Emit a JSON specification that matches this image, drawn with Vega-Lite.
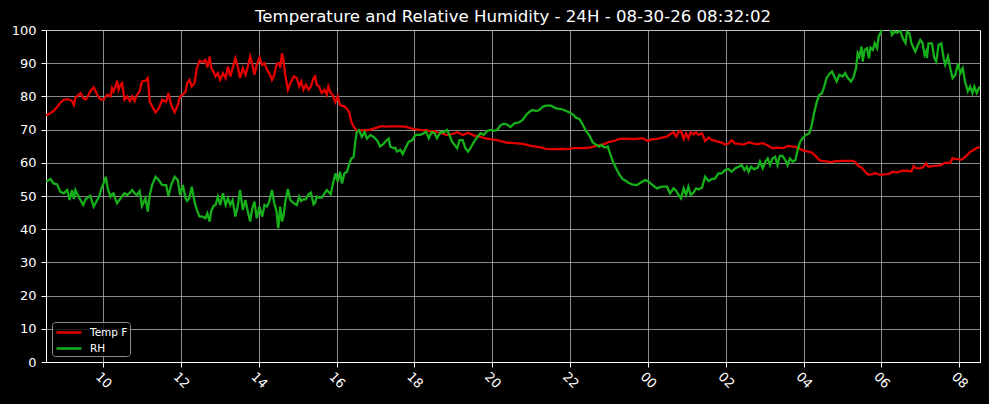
{
  "$schema": "https://vega.github.io/schema/vega-lite/v6.json",
  "description": "Temperature and relative humidity over the last 24 hours",
  "width": 934,
  "height": 332,
  "autosize": {"type": "none"},
  "padding": {"left": 46, "top": 30, "right": 9, "bottom": 42},
  "background": "black",
  "title": {
    "text": "Temperature and Relative Humidity - 24H - 08-30-26 08:32:02",
    "color": "white",
    "font": "DejaVu Sans",
    "fontSize": 16.6,
    "fontWeight": "normal",
    "anchor": "middle",
    "frame": "group",
    "baseline": "alphabetic",
    "offset": 8,
    "dy": 23
  },
  "data": {
    "values": [
      {"h": 8.54, "Temp F": 74.2, "RH": 54.5},
      {"h": 8.56, "Temp F": 74.4, "RH": 54.5},
      {"h": 8.65, "Temp F": 75.0, "RH": 55.1},
      {"h": 8.73, "Temp F": 75.6, "RH": 53.8},
      {"h": 8.82, "Temp F": 76.8, "RH": 53.5},
      {"h": 8.90, "Temp F": 78.0, "RH": 51.3},
      {"h": 8.99, "Temp F": 79.0, "RH": 50.8},
      {"h": 9.08, "Temp F": 79.2, "RH": 51.8},
      {"h": 9.14, "Temp F": 79.0, "RH": 48.8},
      {"h": 9.20, "Temp F": 78.6, "RH": 51.8},
      {"h": 9.25, "Temp F": 77.4, "RH": 49.1},
      {"h": 9.29, "Temp F": 79.5, "RH": 51.8},
      {"h": 9.33, "Temp F": 80.0, "RH": 50.8},
      {"h": 9.42, "Temp F": 81.0, "RH": 48.8},
      {"h": 9.49, "Temp F": 79.5, "RH": 47.3},
      {"h": 9.55, "Temp F": 79.0, "RH": 49.0},
      {"h": 9.61, "Temp F": 80.0, "RH": 49.5},
      {"h": 9.67, "Temp F": 81.5, "RH": 50.1},
      {"h": 9.76, "Temp F": 82.7, "RH": 46.8},
      {"h": 9.85, "Temp F": 80.5, "RH": 48.8},
      {"h": 9.90, "Temp F": 79.5, "RH": 49.8},
      {"h": 9.95, "Temp F": 79.0, "RH": 52.0},
      {"h": 10.02, "Temp F": 79.0, "RH": 54.0},
      {"h": 10.07, "Temp F": 80.0, "RH": 55.8},
      {"h": 10.12, "Temp F": 80.5, "RH": 52.3},
      {"h": 10.19, "Temp F": 80.0, "RH": 49.8},
      {"h": 10.23, "Temp F": 82.5, "RH": 50.5},
      {"h": 10.27, "Temp F": 81.5, "RH": 50.8},
      {"h": 10.32, "Temp F": 83.0, "RH": 49.0},
      {"h": 10.36, "Temp F": 84.7, "RH": 47.8},
      {"h": 10.40, "Temp F": 82.0, "RH": 48.5},
      {"h": 10.45, "Temp F": 83.5, "RH": 49.3},
      {"h": 10.49, "Temp F": 84.0, "RH": 50.0},
      {"h": 10.55, "Temp F": 79.0, "RH": 50.8},
      {"h": 10.62, "Temp F": 80.0, "RH": 50.3},
      {"h": 10.69, "Temp F": 78.6, "RH": 51.0},
      {"h": 10.75, "Temp F": 80.0, "RH": 51.8},
      {"h": 10.81, "Temp F": 78.6, "RH": 50.8},
      {"h": 10.87, "Temp F": 80.5, "RH": 50.3},
      {"h": 10.94, "Temp F": 81.5, "RH": 51.5},
      {"h": 11.00, "Temp F": 84.5, "RH": 47.0},
      {"h": 11.09, "Temp F": 84.7, "RH": 49.3},
      {"h": 11.15, "Temp F": 85.5, "RH": 45.3},
      {"h": 11.20, "Temp F": 78.4, "RH": 50.3},
      {"h": 11.26, "Temp F": 77.0, "RH": 53.3},
      {"h": 11.35, "Temp F": 75.2, "RH": 55.8},
      {"h": 11.43, "Temp F": 76.4, "RH": 54.8},
      {"h": 11.52, "Temp F": 79.0, "RH": 53.3},
      {"h": 11.62, "Temp F": 78.4, "RH": 53.3},
      {"h": 11.68, "Temp F": 81.0, "RH": 50.0},
      {"h": 11.75, "Temp F": 77.4, "RH": 53.3},
      {"h": 11.84, "Temp F": 75.2, "RH": 55.8},
      {"h": 11.92, "Temp F": 77.4, "RH": 54.8},
      {"h": 11.98, "Temp F": 80.0, "RH": 50.3},
      {"h": 12.05, "Temp F": 80.5, "RH": 53.3},
      {"h": 12.12, "Temp F": 81.5, "RH": 49.3},
      {"h": 12.16, "Temp F": 84.0, "RH": 48.5},
      {"h": 12.22, "Temp F": 85.0, "RH": 49.5},
      {"h": 12.28, "Temp F": 83.0, "RH": 52.8},
      {"h": 12.35, "Temp F": 84.0, "RH": 48.3},
      {"h": 12.41, "Temp F": 88.5, "RH": 45.8},
      {"h": 12.48, "Temp F": 90.7, "RH": 43.8},
      {"h": 12.56, "Temp F": 90.3, "RH": 43.8},
      {"h": 12.63, "Temp F": 91.0, "RH": 43.3},
      {"h": 12.68, "Temp F": 88.7, "RH": 44.8},
      {"h": 12.74, "Temp F": 92.0, "RH": 42.3},
      {"h": 12.78, "Temp F": 88.5, "RH": 45.5},
      {"h": 12.84, "Temp F": 87.5, "RH": 47.0},
      {"h": 12.89, "Temp F": 86.0, "RH": 47.3},
      {"h": 12.95, "Temp F": 87.0, "RH": 49.8},
      {"h": 13.01, "Temp F": 85.0, "RH": 47.3},
      {"h": 13.08, "Temp F": 87.0, "RH": 50.8},
      {"h": 13.15, "Temp F": 85.5, "RH": 47.3},
      {"h": 13.21, "Temp F": 89.0, "RH": 49.3},
      {"h": 13.27, "Temp F": 86.0, "RH": 47.3},
      {"h": 13.33, "Temp F": 88.5, "RH": 48.8},
      {"h": 13.40, "Temp F": 91.5, "RH": 43.8},
      {"h": 13.46, "Temp F": 89.0, "RH": 46.8},
      {"h": 13.52, "Temp F": 85.5, "RH": 51.8},
      {"h": 13.59, "Temp F": 88.5, "RH": 45.8},
      {"h": 13.66, "Temp F": 86.5, "RH": 48.8},
      {"h": 13.72, "Temp F": 89.0, "RH": 45.3},
      {"h": 13.78, "Temp F": 92.0, "RH": 42.3},
      {"h": 13.83, "Temp F": 90.0, "RH": 46.0},
      {"h": 13.89, "Temp F": 86.5, "RH": 48.3},
      {"h": 13.95, "Temp F": 89.5, "RH": 43.3},
      {"h": 14.02, "Temp F": 91.7, "RH": 46.8},
      {"h": 14.09, "Temp F": 89.5, "RH": 43.8},
      {"h": 14.15, "Temp F": 90.0, "RH": 47.3},
      {"h": 14.21, "Temp F": 88.0, "RH": 46.8},
      {"h": 14.27, "Temp F": 87.0, "RH": 48.3},
      {"h": 14.34, "Temp F": 85.0, "RH": 51.8},
      {"h": 14.40, "Temp F": 86.5, "RH": 47.8},
      {"h": 14.46, "Temp F": 89.7, "RH": 45.3},
      {"h": 14.50, "Temp F": 90.0, "RH": 40.3},
      {"h": 14.53, "Temp F": 90.0, "RH": 43.3},
      {"h": 14.55, "Temp F": 88.5, "RH": 46.8},
      {"h": 14.60, "Temp F": 93.0, "RH": 42.3},
      {"h": 14.64, "Temp F": 90.5, "RH": 44.3},
      {"h": 14.68, "Temp F": 86.5, "RH": 48.0},
      {"h": 14.75, "Temp F": 82.0, "RH": 52.1},
      {"h": 14.81, "Temp F": 84.0, "RH": 48.8},
      {"h": 14.90, "Temp F": 86.0, "RH": 47.8},
      {"h": 14.98, "Temp F": 85.5, "RH": 47.3},
      {"h": 15.04, "Temp F": 83.0, "RH": 49.8},
      {"h": 15.09, "Temp F": 84.5, "RH": 48.5},
      {"h": 15.15, "Temp F": 82.0, "RH": 49.0},
      {"h": 15.21, "Temp F": 83.5, "RH": 49.0},
      {"h": 15.28, "Temp F": 82.0, "RH": 50.5},
      {"h": 15.34, "Temp F": 83.0, "RH": 51.0},
      {"h": 15.41, "Temp F": 85.5, "RH": 47.5},
      {"h": 15.45, "Temp F": 86.0, "RH": 48.0},
      {"h": 15.49, "Temp F": 83.5, "RH": 49.8},
      {"h": 15.55, "Temp F": 83.0, "RH": 49.5},
      {"h": 15.62, "Temp F": 81.0, "RH": 49.5},
      {"h": 15.69, "Temp F": 82.0, "RH": 50.8},
      {"h": 15.75, "Temp F": 80.5, "RH": 51.8},
      {"h": 15.79, "Temp F": 83.0, "RH": 51.3},
      {"h": 15.85, "Temp F": 81.0, "RH": 50.5},
      {"h": 15.90, "Temp F": 80.5, "RH": 53.3},
      {"h": 15.97, "Temp F": 78.3, "RH": 56.8},
      {"h": 16.03, "Temp F": 80.0, "RH": 54.3},
      {"h": 16.09, "Temp F": 77.4, "RH": 57.3},
      {"h": 16.14, "Temp F": 77.2, "RH": 53.8},
      {"h": 16.20, "Temp F": 77.0, "RH": 56.8},
      {"h": 16.27, "Temp F": 76.2, "RH": 57.3},
      {"h": 16.33, "Temp F": 75.0, "RH": 59.8},
      {"h": 16.38, "Temp F": 72.3, "RH": 61.3},
      {"h": 16.44, "Temp F": 70.9, "RH": 61.8},
      {"h": 16.48, "Temp F": 70.3, "RH": 66.3},
      {"h": 16.52, "Temp F": 69.5, "RH": 69.3},
      {"h": 16.58, "Temp F": 69.6, "RH": 69.8},
      {"h": 16.65, "Temp F": 69.8, "RH": 67.8},
      {"h": 16.72, "Temp F": 69.8, "RH": 69.3},
      {"h": 16.78, "Temp F": 69.8, "RH": 67.3},
      {"h": 16.87, "Temp F": 70.0, "RH": 68.4},
      {"h": 16.95, "Temp F": 70.3, "RH": 67.8},
      {"h": 17.04, "Temp F": 70.6, "RH": 66.8},
      {"h": 17.12, "Temp F": 71.0, "RH": 64.9},
      {"h": 17.21, "Temp F": 71.0, "RH": 65.8},
      {"h": 17.29, "Temp F": 70.9, "RH": 66.8},
      {"h": 17.34, "Temp F": 71.0, "RH": 67.3},
      {"h": 17.38, "Temp F": 71.0, "RH": 64.9},
      {"h": 17.47, "Temp F": 71.0, "RH": 64.4},
      {"h": 17.51, "Temp F": 71.0, "RH": 64.5},
      {"h": 17.55, "Temp F": 71.0, "RH": 63.4},
      {"h": 17.64, "Temp F": 71.0, "RH": 63.9},
      {"h": 17.70, "Temp F": 70.9, "RH": 62.6},
      {"h": 17.77, "Temp F": 70.9, "RH": 64.4},
      {"h": 17.85, "Temp F": 70.6, "RH": 66.3},
      {"h": 17.94, "Temp F": 70.3, "RH": 66.8},
      {"h": 18.03, "Temp F": 70.1, "RH": 68.4},
      {"h": 18.15, "Temp F": 69.9, "RH": 68.4},
      {"h": 18.24, "Temp F": 69.8, "RH": 68.9},
      {"h": 18.30, "Temp F": 69.8, "RH": 69.4},
      {"h": 18.37, "Temp F": 69.6, "RH": 67.4},
      {"h": 18.44, "Temp F": 69.5, "RH": 69.2},
      {"h": 18.52, "Temp F": 69.5, "RH": 68.9},
      {"h": 18.58, "Temp F": 69.2, "RH": 67.4},
      {"h": 18.67, "Temp F": 69.0, "RH": 69.2},
      {"h": 18.75, "Temp F": 68.6, "RH": 69.2},
      {"h": 18.84, "Temp F": 68.4, "RH": 69.9},
      {"h": 18.90, "Temp F": 68.5, "RH": 68.4},
      {"h": 18.97, "Temp F": 68.7, "RH": 66.3},
      {"h": 19.04, "Temp F": 68.9, "RH": 65.3},
      {"h": 19.10, "Temp F": 69.2, "RH": 64.4},
      {"h": 19.16, "Temp F": 68.9, "RH": 66.8},
      {"h": 19.24, "Temp F": 68.4, "RH": 66.8},
      {"h": 19.31, "Temp F": 68.7, "RH": 64.4},
      {"h": 19.38, "Temp F": 69.0, "RH": 63.4},
      {"h": 19.44, "Temp F": 68.7, "RH": 64.4},
      {"h": 19.53, "Temp F": 68.2, "RH": 66.3},
      {"h": 19.61, "Temp F": 68.0, "RH": 67.6},
      {"h": 19.70, "Temp F": 67.8, "RH": 68.9},
      {"h": 19.78, "Temp F": 67.5, "RH": 68.4},
      {"h": 19.87, "Temp F": 67.3, "RH": 69.6},
      {"h": 19.95, "Temp F": 67.1, "RH": 69.9},
      {"h": 20.04, "Temp F": 67.0, "RH": 69.6},
      {"h": 20.13, "Temp F": 66.8, "RH": 69.9},
      {"h": 20.21, "Temp F": 66.5, "RH": 71.3},
      {"h": 20.30, "Temp F": 66.3, "RH": 71.8},
      {"h": 20.38, "Temp F": 66.0, "RH": 71.5},
      {"h": 20.47, "Temp F": 66.0, "RH": 70.8},
      {"h": 20.57, "Temp F": 65.9, "RH": 71.9},
      {"h": 20.70, "Temp F": 65.8, "RH": 72.2},
      {"h": 20.78, "Temp F": 65.7, "RH": 72.9},
      {"h": 20.87, "Temp F": 65.5, "RH": 74.4},
      {"h": 20.96, "Temp F": 65.2, "RH": 75.4},
      {"h": 21.04, "Temp F": 65.0, "RH": 75.9},
      {"h": 21.13, "Temp F": 64.9, "RH": 75.6},
      {"h": 21.21, "Temp F": 64.7, "RH": 75.9},
      {"h": 21.30, "Temp F": 64.5, "RH": 76.9},
      {"h": 21.38, "Temp F": 64.2, "RH": 77.2},
      {"h": 21.51, "Temp F": 64.1, "RH": 77.2},
      {"h": 21.64, "Temp F": 64.1, "RH": 76.4},
      {"h": 21.77, "Temp F": 64.2, "RH": 76.2},
      {"h": 21.90, "Temp F": 64.1, "RH": 75.6},
      {"h": 21.98, "Temp F": 64.2, "RH": 75.2},
      {"h": 22.07, "Temp F": 64.4, "RH": 74.6},
      {"h": 22.15, "Temp F": 64.4, "RH": 73.6},
      {"h": 22.24, "Temp F": 64.4, "RH": 73.2},
      {"h": 22.33, "Temp F": 64.4, "RH": 71.4},
      {"h": 22.41, "Temp F": 64.5, "RH": 69.6},
      {"h": 22.50, "Temp F": 64.6, "RH": 68.2},
      {"h": 22.58, "Temp F": 64.8, "RH": 66.2},
      {"h": 22.67, "Temp F": 65.1, "RH": 65.4},
      {"h": 22.75, "Temp F": 65.3, "RH": 64.9},
      {"h": 22.81, "Temp F": 65.5, "RH": 65.4},
      {"h": 22.88, "Temp F": 65.6, "RH": 64.6},
      {"h": 22.97, "Temp F": 66.2, "RH": 64.9},
      {"h": 23.01, "Temp F": 66.3, "RH": 63.4},
      {"h": 23.10, "Temp F": 66.5, "RH": 60.4},
      {"h": 23.18, "Temp F": 66.8, "RH": 58.4},
      {"h": 23.27, "Temp F": 67.2, "RH": 56.4},
      {"h": 23.35, "Temp F": 67.2, "RH": 55.1},
      {"h": 23.44, "Temp F": 67.3, "RH": 54.5},
      {"h": 23.50, "Temp F": 67.2, "RH": 54.0},
      {"h": 23.59, "Temp F": 67.2, "RH": 53.5},
      {"h": 23.72, "Temp F": 67.2, "RH": 53.3},
      {"h": 23.85, "Temp F": 67.4, "RH": 54.3},
      {"h": 23.93, "Temp F": 67.0, "RH": 54.8},
      {"h": 24.00, "Temp F": 66.6, "RH": 54.5},
      {"h": 24.10, "Temp F": 67.1, "RH": 53.5},
      {"h": 24.23, "Temp F": 67.2, "RH": 52.3},
      {"h": 24.36, "Temp F": 67.6, "RH": 52.8},
      {"h": 24.49, "Temp F": 67.9, "RH": 52.8},
      {"h": 24.57, "Temp F": 68.6, "RH": 50.8},
      {"h": 24.66, "Temp F": 69.2, "RH": 52.3},
      {"h": 24.73, "Temp F": 67.9, "RH": 51.5},
      {"h": 24.79, "Temp F": 69.4, "RH": 50.3},
      {"h": 24.85, "Temp F": 69.6, "RH": 49.3},
      {"h": 24.92, "Temp F": 67.2, "RH": 52.3},
      {"h": 24.98, "Temp F": 68.9, "RH": 50.3},
      {"h": 25.04, "Temp F": 67.4, "RH": 52.8},
      {"h": 25.10, "Temp F": 69.2, "RH": 50.3},
      {"h": 25.17, "Temp F": 68.6, "RH": 51.0},
      {"h": 25.24, "Temp F": 69.2, "RH": 52.3},
      {"h": 25.30, "Temp F": 68.4, "RH": 52.0},
      {"h": 25.39, "Temp F": 68.9, "RH": 52.5},
      {"h": 25.47, "Temp F": 66.6, "RH": 55.8},
      {"h": 25.56, "Temp F": 67.6, "RH": 54.5},
      {"h": 25.64, "Temp F": 66.9, "RH": 55.1},
      {"h": 25.73, "Temp F": 66.6, "RH": 55.3},
      {"h": 25.81, "Temp F": 66.3, "RH": 56.8},
      {"h": 25.90, "Temp F": 66.1, "RH": 56.8},
      {"h": 25.98, "Temp F": 65.5, "RH": 57.8},
      {"h": 26.07, "Temp F": 65.8, "RH": 58.1},
      {"h": 26.15, "Temp F": 66.8, "RH": 57.3},
      {"h": 26.24, "Temp F": 65.8, "RH": 58.3},
      {"h": 26.33, "Temp F": 65.8, "RH": 58.8},
      {"h": 26.41, "Temp F": 65.5, "RH": 59.3},
      {"h": 26.48, "Temp F": 65.6, "RH": 57.8},
      {"h": 26.54, "Temp F": 65.9, "RH": 58.8},
      {"h": 26.59, "Temp F": 66.2, "RH": 57.3},
      {"h": 26.65, "Temp F": 66.0, "RH": 58.8},
      {"h": 26.73, "Temp F": 65.8, "RH": 58.1},
      {"h": 26.82, "Temp F": 65.6, "RH": 58.5},
      {"h": 26.88, "Temp F": 65.8, "RH": 60.4},
      {"h": 26.95, "Temp F": 65.9, "RH": 58.3},
      {"h": 27.02, "Temp F": 65.6, "RH": 60.4},
      {"h": 27.08, "Temp F": 65.2, "RH": 61.3},
      {"h": 27.14, "Temp F": 64.8, "RH": 59.3},
      {"h": 27.20, "Temp F": 64.4, "RH": 61.3},
      {"h": 27.27, "Temp F": 64.5, "RH": 61.8},
      {"h": 27.33, "Temp F": 64.6, "RH": 59.3},
      {"h": 27.39, "Temp F": 64.5, "RH": 62.1},
      {"h": 27.46, "Temp F": 64.4, "RH": 62.1},
      {"h": 27.53, "Temp F": 64.7, "RH": 60.8},
      {"h": 27.59, "Temp F": 65.1, "RH": 59.3},
      {"h": 27.65, "Temp F": 65.0, "RH": 61.3},
      {"h": 27.72, "Temp F": 64.9, "RH": 60.4},
      {"h": 27.79, "Temp F": 64.8, "RH": 60.8},
      {"h": 27.85, "Temp F": 64.5, "RH": 63.9},
      {"h": 27.91, "Temp F": 64.2, "RH": 66.3},
      {"h": 27.97, "Temp F": 63.8, "RH": 67.3},
      {"h": 28.06, "Temp F": 63.5, "RH": 68.4},
      {"h": 28.15, "Temp F": 63.3, "RH": 68.9},
      {"h": 28.21, "Temp F": 63.1, "RH": 71.4},
      {"h": 28.27, "Temp F": 62.5, "RH": 74.9},
      {"h": 28.33, "Temp F": 61.8, "RH": 77.9},
      {"h": 28.40, "Temp F": 60.8, "RH": 80.4},
      {"h": 28.47, "Temp F": 60.6, "RH": 80.9},
      {"h": 28.53, "Temp F": 60.5, "RH": 82.9},
      {"h": 28.59, "Temp F": 60.4, "RH": 85.5},
      {"h": 28.66, "Temp F": 60.3, "RH": 86.7},
      {"h": 28.73, "Temp F": 60.2, "RH": 87.5},
      {"h": 28.79, "Temp F": 60.4, "RH": 86.0},
      {"h": 28.85, "Temp F": 60.6, "RH": 84.5},
      {"h": 28.92, "Temp F": 60.5, "RH": 86.5},
      {"h": 29.00, "Temp F": 60.6, "RH": 86.0},
      {"h": 29.07, "Temp F": 60.6, "RH": 87.0},
      {"h": 29.13, "Temp F": 60.6, "RH": 85.7},
      {"h": 29.22, "Temp F": 60.6, "RH": 84.5},
      {"h": 29.28, "Temp F": 60.6, "RH": 85.7},
      {"h": 29.35, "Temp F": 60.0, "RH": 88.5},
      {"h": 29.39, "Temp F": 59.3, "RH": 93.0},
      {"h": 29.43, "Temp F": 58.9, "RH": 92.0},
      {"h": 29.49, "Temp F": 58.6, "RH": 95.0},
      {"h": 29.52, "Temp F": 58.2, "RH": 90.5},
      {"h": 29.57, "Temp F": 57.5, "RH": 94.0},
      {"h": 29.63, "Temp F": 56.7, "RH": 94.5},
      {"h": 29.68, "Temp F": 56.4, "RH": 91.5},
      {"h": 29.72, "Temp F": 56.5, "RH": 94.7},
      {"h": 29.78, "Temp F": 56.6, "RH": 94.0},
      {"h": 29.83, "Temp F": 56.9, "RH": 96.0},
      {"h": 29.89, "Temp F": 56.7, "RH": 94.5},
      {"h": 29.93, "Temp F": 56.5, "RH": 98.0},
      {"h": 30.00, "Temp F": 56.4, "RH": 99.7},
      {"h": 30.06, "Temp F": 56.5, "RH": 101.0},
      {"h": 30.15, "Temp F": 56.6, "RH": 102.0},
      {"h": 30.23, "Temp F": 56.8, "RH": 101.0},
      {"h": 30.27, "Temp F": 57.3, "RH": 98.5},
      {"h": 30.34, "Temp F": 57.2, "RH": 99.5},
      {"h": 30.40, "Temp F": 57.1, "RH": 99.2},
      {"h": 30.49, "Temp F": 57.4, "RH": 99.7},
      {"h": 30.55, "Temp F": 57.6, "RH": 97.5},
      {"h": 30.62, "Temp F": 57.6, "RH": 96.1},
      {"h": 30.66, "Temp F": 57.6, "RH": 99.5},
      {"h": 30.72, "Temp F": 57.5, "RH": 99.0},
      {"h": 30.77, "Temp F": 57.4, "RH": 96.1},
      {"h": 30.83, "Temp F": 59.0, "RH": 94.5},
      {"h": 30.87, "Temp F": 58.5, "RH": 93.5},
      {"h": 30.94, "Temp F": 58.3, "RH": 95.5},
      {"h": 31.00, "Temp F": 58.4, "RH": 97.0},
      {"h": 31.06, "Temp F": 58.6, "RH": 96.0},
      {"h": 31.11, "Temp F": 59.3, "RH": 92.5},
      {"h": 31.15, "Temp F": 59.8, "RH": 93.5},
      {"h": 31.17, "Temp F": 59.3, "RH": 91.5},
      {"h": 31.21, "Temp F": 58.8, "RH": 96.0},
      {"h": 31.30, "Temp F": 59.0, "RH": 96.0},
      {"h": 31.36, "Temp F": 59.1, "RH": 91.5},
      {"h": 31.41, "Temp F": 59.1, "RH": 90.5},
      {"h": 31.47, "Temp F": 59.2, "RH": 95.5},
      {"h": 31.54, "Temp F": 59.3, "RH": 96.0},
      {"h": 31.60, "Temp F": 59.8, "RH": 91.5},
      {"h": 31.64, "Temp F": 60.0, "RH": 89.5},
      {"h": 31.71, "Temp F": 60.0, "RH": 92.0},
      {"h": 31.77, "Temp F": 60.0, "RH": 88.5},
      {"h": 31.83, "Temp F": 61.4, "RH": 85.5},
      {"h": 31.90, "Temp F": 61.2, "RH": 86.5},
      {"h": 31.97, "Temp F": 61.1, "RH": 90.0},
      {"h": 32.03, "Temp F": 60.9, "RH": 87.0},
      {"h": 32.09, "Temp F": 61.2, "RH": 88.5},
      {"h": 32.15, "Temp F": 61.8, "RH": 84.5},
      {"h": 32.22, "Temp F": 62.5, "RH": 81.5},
      {"h": 32.28, "Temp F": 63.3, "RH": 83.0},
      {"h": 32.34, "Temp F": 63.6, "RH": 81.0},
      {"h": 32.39, "Temp F": 64.0, "RH": 83.0},
      {"h": 32.45, "Temp F": 64.5, "RH": 81.0},
      {"h": 32.53, "Temp F": 64.7, "RH": 83.0}
    ]
  },
  "transform": [{"fold": ["Temp F", "RH"], "as": ["series", "value"]}],
  "mark": {"type": "line", "strokeWidth": 2.3, "clip": true},
  "encoding": {
    "x": {
      "field": "h",
      "type": "quantitative",
      "scale": {"domain": [8.534, 32.534], "nice": false, "zero": false},
      "axis": {
        "title": null,
        "values": [10, 12, 14, 16, 18, 20, 22, 24, 26, 28, 30, 32],
        "labelExpr": "format(datum.value % 24, '02d')",
        "labelAngle": 45,
        "labelAlign": "center",
        "labelBaseline": "middle",
        "labelPadding": 13,
        "labelFlush": false,
        "labelOverlap": false
      }
    },
    "y": {
      "field": "value",
      "type": "quantitative",
      "scale": {"domain": [0, 100], "nice": false},
      "axis": {
        "title": null,
        "values": [0, 10, 20, 30, 40, 50, 60, 70, 80, 90, 100],
        "labelPadding": 5,
        "labelFlush": false,
        "labelOverlap": false
      }
    },
    "color": {
      "field": "series",
      "type": "nominal",
      "scale": {"domain": ["Temp F", "RH"], "range": ["#e50000", "#15b01a"]},
      "legend": {
        "title": null,
        "orient": "bottom-left",
        "offset": 6,
        "padding": 2,
        "fillColor": "rgba(0,0,0,0.8)",
        "strokeColor": "#8c8c8c",
        "cornerRadius": 3,
        "symbolType": "M-0.86,0H2.71",
        "symbolSize": 196,
        "symbolStrokeWidth": 2.5,
        "rowPadding": 2,
        "labelOffset": 19,
        "labelColor": "white",
        "labelFont": "DejaVu Sans",
        "labelFontSize": 10.5
      }
    }
  },
  "config": {
    "view": {"stroke": "white", "strokeWidth": 1},
    "axis": {
      "grid": true,
      "gridColor": "#b0b0b0",
      "gridWidth": 0.8,
      "gridOpacity": 1,
      "domainColor": "white",
      "domainWidth": 1,
      "tickColor": "white",
      "tickSize": 5,
      "tickWidth": 1,
      "labelColor": "white",
      "labelFont": "DejaVu Sans",
      "labelFontSize": 13
    }
  }
}
